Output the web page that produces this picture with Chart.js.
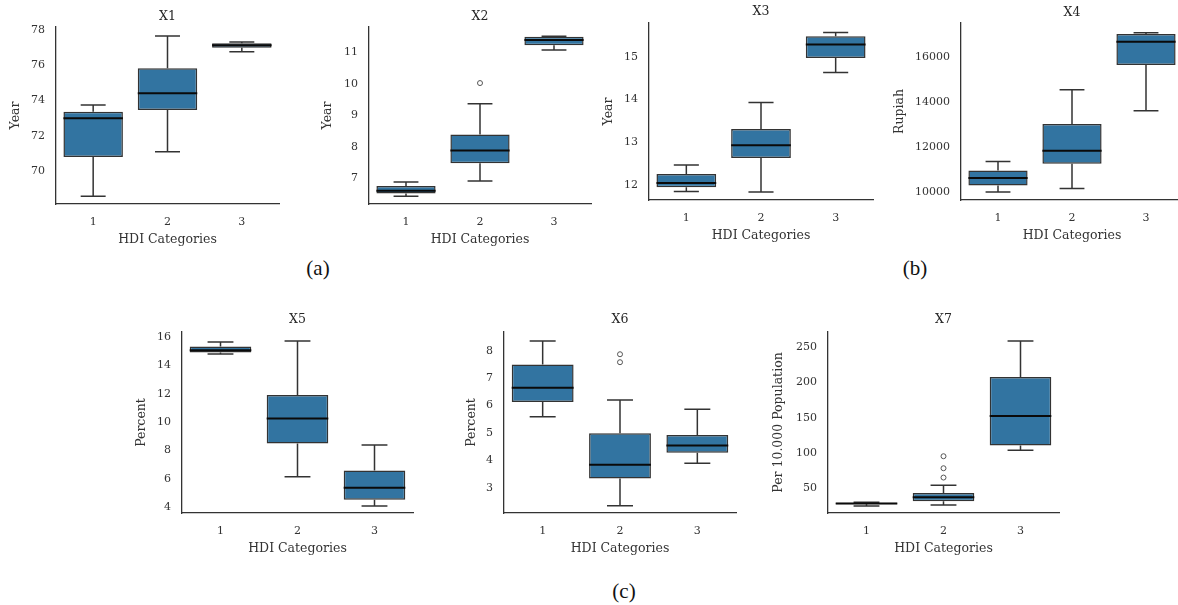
<!DOCTYPE html>
<html><head><meta charset="utf-8">
<script src="https://cdn.jsdelivr.net/npm/chart.js@4.4.1/dist/chart.umd.min.js"></script>
<style>
html,body{margin:0;padding:0;background:#fff;width:1178px;height:605px;overflow:hidden;position:relative}
.lab{position:absolute;font-family:"Liberation Serif","Times New Roman",serif;font-size:21px;color:#111;transform:translate(-50%,-50%);white-space:nowrap}
</style></head><body>
<div class="lab" style="left:318px;top:268px">(a)</div>
<div class="lab" style="left:915px;top:268px">(b)</div>
<div class="lab" style="left:624px;top:591px">(c)</div>
<script>
// ---- data ----
const categories = ['1', '2', '3'];

const x1Low  = [68.58, 71.10, 76.77];
const x1Q1   = [70.80, 73.47, 77.00];
const x1Med  = [73.00, 74.41, 77.13];
const x1Q3   = [73.37, 75.83, 77.25];
const x1High = [73.75, 77.66, 77.32];
const x1Out  = [[], [], []];
const x1Ticks = [70, 72, 74, 76, 78];

const x2Low  = [6.43, 6.91, 11.07];
const x2Q1   = [6.51, 7.47, 11.22];
const x2Med  = [6.60, 7.88, 11.39];
const x2Q3   = [6.75, 8.39, 11.49];
const x2High = [6.88, 9.36, 11.51];
const x2Out  = [[], [10.02], []];
const x2Ticks = [7, 8, 9, 10, 11];

const x3Low  = [11.85, 11.84, 14.63];
const x3Q1   = [11.95, 12.63, 14.97];
const x3Med  = [12.05, 12.93, 15.29];
const x3Q3   = [12.26, 13.31, 15.48];
const x3High = [12.47, 13.93, 15.57];
const x3Out  = [[], [], []];
const x3Ticks = [12, 13, 14, 15];

const x4Low  = [10018, 10178, 13631];
const x4Q1   = [10311, 11276, 15662];
const x4Med  = [10640, 11853, 16698];
const x4Q3   = [10978, 13040, 17040];
const x4High = [11378, 14564, 17098];
const x4Out  = [[], [], []];
const x4Ticks = [10000, 12000, 14000, 16000];

const x5Low  = [14.80, 6.14, 4.07];
const x5Q1   = [14.90, 8.48, 4.52];
const x5Med  = [15.06, 10.25, 5.37];
const x5Q3   = [15.32, 11.91, 6.57];
const x5High = [15.65, 15.72, 8.38];
const x5Out  = [[], [], []];
const x5Ticks = [4, 6, 8, 10, 12, 14, 16];

const x6Low  = [5.59, 2.35, 3.90];
const x6Q1   = [6.13, 3.35, 4.28];
const x6Med  = [6.65, 3.85, 4.55];
const x6Q3   = [7.50, 4.99, 4.93];
const x6High = [8.35, 6.20, 5.87];
const x6Out  = [[], [7.58, 7.87], []];
const x6Ticks = [3, 4, 5, 6, 7, 8];

const x7Low  = [25.4, 26.8, 104.2];
const x7Q1   = [27.8, 32.0, 110.9];
const x7Med  = [29.0, 37.7, 152.8];
const x7Q3   = [30.0, 43.8, 208.1];
const x7High = [30.5, 54.7, 259.1];
const x7Out  = [[], [65.6, 78.8, 95.8], []];
const x7Ticks = [50, 100, 150, 200, 250];

// ---- styling / layout ----
const BOX_FILL = '#3274a1';
const LINE = '#333333';
const MEDIAN = '#0a0a0a';
const SPINE = '#333333';
const TEXT = '#333333';
const FONT = "'DejaVu Serif', serif";

function boxParts(st) {
  return {
    id: 'boxParts',
    afterDatasetsDraw(chart) {
      const meta = chart.getDatasetMeta(0);
      const ys = chart.scales.y;
      const ctx = chart.ctx;
      const py = v => ys.getPixelForValue(v);
      ctx.save();
      meta.data.forEach((bar, i) => {
        const x = bar.x, w = bar.width, cw = w * 0.21;
        ctx.strokeStyle = LINE; ctx.lineWidth = 1.5; ctx.lineCap = 'butt';
        ctx.beginPath();
        ctx.moveTo(x, py(st.q3[i])); ctx.lineTo(x, py(st.high[i]));
        ctx.moveTo(x, py(st.q1[i])); ctx.lineTo(x, py(st.low[i]));
        ctx.moveTo(x - cw, py(st.high[i])); ctx.lineTo(x + cw, py(st.high[i]));
        ctx.moveTo(x - cw, py(st.low[i])); ctx.lineTo(x + cw, py(st.low[i]));
        ctx.stroke();
        ctx.strokeStyle = MEDIAN; ctx.lineWidth = 2;
        ctx.beginPath();
        ctx.moveTo(x - w / 2, py(st.med[i])); ctx.lineTo(x + w / 2, py(st.med[i]));
        ctx.stroke();
      });
      ctx.restore();
    }
  };
}

function makeChart(c) {
  const Wy = 80, Hx = 50, TH = 22, PR = 4;
  const a = c.area;
  const W = Wy + (a.r - a.l) + PR;
  const H = TH + (a.b - a.t) + Hx;
  const cv = document.createElement('canvas');
  cv.width = W; cv.height = H;
  cv.style.cssText = `position:absolute;left:${a.l - Wy}px;top:${a.t - TH}px;width:${W}px;height:${H}px`;
  document.body.appendChild(cv);
  const tpb = c.titleGap - 7.5;
  const outPts = categories.flatMap((cat, i) => c.out[i].map(v => ({x: cat, y: v})));
  new Chart(cv, {
    type: 'bar',
    data: {
      labels: categories,
      datasets: [
        {
          type: 'bar',
          data: categories.map((cat, i) => [c.q1[i], c.q3[i]]),
          backgroundColor: BOX_FILL,
          borderColor: LINE,
          borderWidth: 1.5,
          borderSkipped: false,
          barPercentage: 0.8,
          categoryPercentage: 1.0,
          grouped: false,
          order: 1
        },
        {
          type: 'line',
          data: outPts,
          showLine: false,
          pointRadius: 2.5,
          pointBorderWidth: 1,
          pointBorderColor: '#555555',
          pointBackgroundColor: '#ffffff',
          order: 0
        }
      ]
    },
    options: {
      responsive: false,
      animation: false,
      devicePixelRatio: 1,
      layout: {padding: {left: 0, right: PR, top: 0, bottom: 0}},
      plugins: {
        legend: {display: false},
        tooltip: {enabled: false},
        title: {
          display: true, text: c.title, fullSize: false,
          color: '#262626', font: {family: FONT, size: 12.5, weight: 'normal'},
          padding: {top: TH - 15 - tpb, bottom: tpb}
        }
      },
      scales: {
        x: {
          type: 'category', offset: true,
          grid: {display: false, drawTicks: false},
          border: {display: true, color: SPINE, width: 1.3},
          ticks: {color: TEXT, font: {family: FONT, size: 11}, padding: 12, maxRotation: 0},
          title: {display: true, text: 'HDI Categories', color: TEXT,
                  font: {family: FONT, size: 12.5}, padding: {top: 0, bottom: Hx - 35.5 - 7.5}},
          afterFit: s => { s.height = Hx; }
        },
        y: {
          type: 'linear', min: c.range[0], max: c.range[1],
          afterBuildTicks: s => { s.ticks = c.ticks.map(v => ({value: v})); },
          grid: {display: false, drawTicks: false},
          border: {display: true, color: SPINE, width: 1.3},
          ticks: {color: TEXT, font: {family: FONT, size: 11}, padding: 11, callback: v => String(v)},
          title: {display: true, text: c.ytitle, color: TEXT,
                  font: {family: FONT, size: 12.5}, padding: {top: Wy - c.ylabOff - 7.5, bottom: 0}},
          afterFit: s => { s.width = Wy; }
        }
      }
    },
    plugins: [boxParts(c)]
  });
}

makeChart({title: 'X1', ytitle: 'Year', area: {l: 56, r: 279, t: 27, b: 204}, range: [68.14, 78.17],
  ticks: x1Ticks, low: x1Low, q1: x1Q1, med: x1Med, q3: x1Q3, high: x1High, out: x1Out, ylabOff: 40, titleGap: 10});
makeChart({title: 'X2', ytitle: 'Year', area: {l: 369, r: 592, t: 27, b: 204}, range: [6.18, 11.80],
  ticks: x2Ticks, low: x2Low, q1: x2Q1, med: x2Med, q3: x2Q3, high: x2High, out: x2Out, ylabOff: 41, titleGap: 10});
makeChart({title: 'X3', ytitle: 'Year', area: {l: 649, r: 873, t: 23, b: 200}, range: [11.65, 15.79],
  ticks: x3Ticks, low: x3Low, q1: x3Q1, med: x3Med, q3: x3Q3, high: x3High, out: x3Out, ylabOff: 40, titleGap: 11});
makeChart({title: 'X4', ytitle: 'Rupiah', area: {l: 961, r: 1183, t: 23, b: 200}, range: [9662, 17529],
  ticks: x4Ticks, low: x4Low, q1: x4Q1, med: x4Med, q3: x4Q3, high: x4High, out: x4Out, ylabOff: 61, titleGap: 10});
makeChart({title: 'X5', ytitle: 'Percent', area: {l: 182, r: 413, t: 332, b: 513}, range: [3.58, 16.35],
  ticks: x5Ticks, low: x5Low, q1: x5Q1, med: x5Med, q3: x5Q3, high: x5High, out: x5Out, ylabOff: 40, titleGap: 12});
makeChart({title: 'X6', ytitle: 'Percent', area: {l: 504, r: 737, t: 332, b: 513}, range: [2.09, 8.68],
  ticks: x6Ticks, low: x6Low, q1: x6Q1, med: x6Med, q3: x6Q3, high: x6High, out: x6Out, ylabOff: 32, titleGap: 12});
makeChart({title: 'X7', ytitle: 'Per 10.000 Population', area: {l: 828, r: 1060, t: 332, b: 513}, range: [15.4, 271.7],
  ticks: x7Ticks, low: x7Low, q1: x7Q1, med: x7Med, q3: x7Q3, high: x7High, out: x7Out, ylabOff: 49, titleGap: 12});
</script>
</body></html>
